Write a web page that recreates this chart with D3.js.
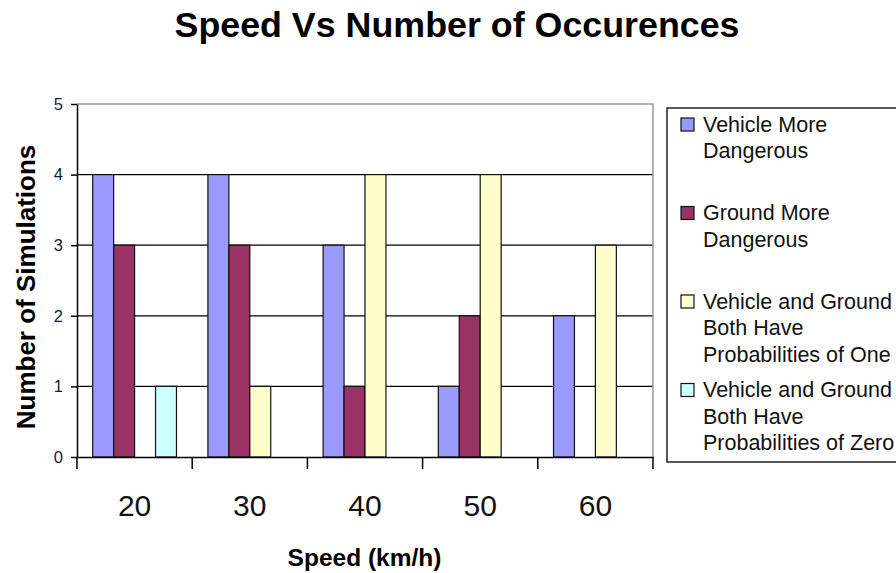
<!DOCTYPE html>
<html>
<head>
<meta charset="utf-8">
<script src="https://cdn.jsdelivr.net/npm/d3@7"></script>
<style>
  html, body { margin: 0; padding: 0; background: #fff; }
  svg { display: block; font-family: "Liberation Sans", Arial, sans-serif; }
</style>
</head>
<body>
<svg id="chart" width="896" height="573"></svg>
<script>
// Speed categories (km/h)
const speeds = ["20", "30", "40", "50", "60"];

// Outcome series, counts per speed
const seriesNames = [
  ["Vehicle More", "Dangerous"],
  ["Ground More", "Dangerous"],
  ["Vehicle and Ground", "Both Have", "Probabilities of One"],
  ["Vehicle and Ground", "Both Have", "Probabilities of Zero"]
];
const vehicleMore = [4, 4, 3, 1, 2];
const groundMore  = [3, 3, 1, 2, 0];
const bothOne     = [0, 1, 4, 4, 3];
const bothZero    = [1, 0, 0, 0, 0];
const yTicks = [0, 1, 2, 3, 4, 5];

const seriesValues = [vehicleMore, groundMore, bothOne, bothZero];
const colors = ["#9999ff", "#993366", "#ffffcc", "#ccffff"];
const seriesKeys = [0, 1, 2, 3];

const svg = d3.select("#chart");

const plot = { left: 77, right: 653, top: 104, bottom: 457 };

const x0 = d3.scaleBand()
  .domain(speeds)
  .range([plot.left, plot.right])
  .padding(0);

const x1 = d3.scaleBand()
  .domain(seriesKeys)
  .range([0, x0.bandwidth()])
  .paddingInner(0)
  .paddingOuter(0.75);

const y = d3.scaleLinear()
  .domain([0, 5])
  .range([plot.bottom, plot.top]);

// Title
svg.append("text")
  .attr("x", 457)
  .attr("y", 37)
  .attr("text-anchor", "middle")
  .attr("font-weight", "bold")
  .attr("font-size", 35.8)
  .attr("fill", "#000")
  .text("Speed Vs Number of Occurences");

// Horizontal gridlines
svg.append("g")
  .selectAll("line")
  .data(yTicks.filter(t => t > 0 && t < 5))
  .join("line")
  .attr("x1", plot.left)
  .attr("x2", plot.right)
  .attr("y1", d => y(d))
  .attr("y2", d => y(d))
  .attr("stroke", "#000")
  .attr("stroke-width", 1.2);

// Plot area border (top and right)
svg.append("path")
  .attr("d", `M${plot.left},${y(5)}H${plot.right}V${plot.bottom}`)
  .attr("fill", "none")
  .attr("stroke", "#999")
  .attr("stroke-width", 1.5);

// Bars
const rows = [];
speeds.forEach((s, i) => {
  seriesKeys.forEach(k => {
    rows.push({ speed: s, key: k, value: seriesValues[k][i] });
  });
});

svg.append("g")
  .selectAll("rect")
  .data(rows.filter(d => d.value > 0))
  .join("rect")
  .attr("x", d => x0(d.speed) + x1(d.key))
  .attr("y", d => y(d.value))
  .attr("width", x1.bandwidth())
  .attr("height", d => y(0) - y(d.value))
  .attr("fill", d => colors[d.key])
  .attr("stroke", "#111")
  .attr("stroke-width", 1.2);

// Y axis
const yAxis = svg.append("g")
  .attr("transform", `translate(${plot.left},0)`)
  .call(d3.axisLeft(y).tickValues(yTicks).tickFormat(d3.format("d"))
    .tickSize(6).tickSizeOuter(0).tickPadding(8));
yAxis.select(".domain").attr("stroke", "#000").attr("stroke-width", 1.5);
yAxis.selectAll(".tick line").attr("stroke", "#000").attr("stroke-width", 1.5);
yAxis.selectAll(".tick text")
  .attr("font-size", 16.5)
  .attr("font-family", "Liberation Sans, Arial, sans-serif")
  .attr("fill", "#1a1a3a");

// X axis: tick marks at category boundaries, labels centred in each band
const xAxis = svg.append("g")
  .attr("transform", `translate(0,${plot.bottom})`)
  .call(d3.axisBottom(x0).tickSize(0).tickPadding(0).tickSizeOuter(0));
xAxis.select(".domain").attr("stroke", "#000").attr("stroke-width", 1.5);
xAxis.selectAll(".tick text")
  .attr("y", 59)
  .attr("dy", null)
  .attr("font-size", 30)
  .attr("font-family", "Liberation Sans, Arial, sans-serif")
  .attr("fill", "#111");

const boundaries = speeds.map(s => x0(s)).concat([x0(speeds[speeds.length - 1]) + x0.bandwidth()]);
svg.append("g")
  .selectAll("line")
  .data(boundaries)
  .join("line")
  .attr("x1", d => d)
  .attr("x2", d => d)
  .attr("y1", plot.bottom)
  .attr("y2", plot.bottom + 12)
  .attr("stroke", "#000")
  .attr("stroke-width", 1.5);

// Axis titles
svg.append("text")
  .attr("x", 364.5)
  .attr("y", 566)
  .attr("text-anchor", "middle")
  .attr("font-weight", "bold")
  .attr("font-size", 24.5)
  .attr("fill", "#000")
  .text("Speed (km/h)");

svg.append("text")
  .attr("transform", "translate(35,287) rotate(-90)")
  .attr("text-anchor", "middle")
  .attr("font-weight", "bold")
  .attr("font-size", 26)
  .attr("fill", "#000")
  .text("Number of Simulations");

// Legend
const legend = svg.append("g");
legend.append("rect")
  .attr("x", 667)
  .attr("y", 108)
  .attr("width", 300)
  .attr("height", 354)
  .attr("fill", "#fff")
  .attr("stroke", "#222")
  .attr("stroke-width", 1.5);

const legendStep = 88.5;
const lineGap = 26.7;
const items = legend.selectAll("g.item")
  .data(seriesKeys)
  .join("g")
  .attr("class", "item")
  .attr("transform", d => `translate(0,${131.5 + d * legendStep})`);

items.append("rect")
  .attr("x", 681)
  .attr("y", -13.5)
  .attr("width", 13)
  .attr("height", 13)
  .attr("fill", d => colors[d])
  .attr("stroke", "#111")
  .attr("stroke-width", 1.2);

items.each(function (d) {
  const t = d3.select(this).append("text")
    .attr("x", 703)
    .attr("y", 0)
    .attr("font-size", 21.5)
    .attr("fill", "#111");
  t.selectAll("tspan")
    .data(seriesNames[d])
    .join("tspan")
    .attr("x", 703)
    .attr("y", (_, i) => i * lineGap)
    .text(s => s);
});
</script>
</body>
</html>
